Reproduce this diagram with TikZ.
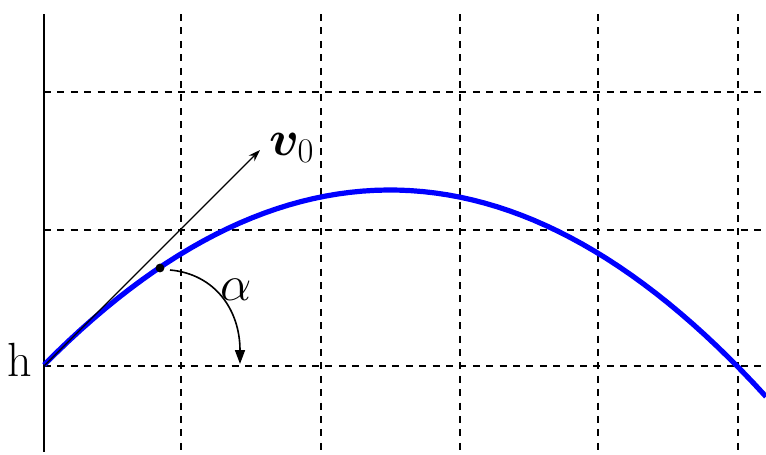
\documentclass[tikz,border=0pt]{standalone}
\usepackage{bm}
\usetikzlibrary{arrows.meta}
\begin{document}
\begin{tikzpicture}[x=.5pt,y=-.5pt,line width=.6pt,
  gridline/.style={line width=1.3pt,dash pattern=on 3.5pt off 3.2pt},
  lbl/.style={inner sep=0pt,font=\fontsize{24}{28}\selectfont}]
  \useasboundingbox (0,0) rectangle (766,455);
  \coordinate (o) at (44,366);
  \coordinate (p) at (160,268);
  \coordinate (v) at (260,150);
  \coordinate (a0) at (170,270);
  \coordinate (a1) at (240,364);
  % grid
  \draw[gridline] (181,14)--(181,452);
  \draw[gridline] (321,14)--(321,452);
  \draw[gridline] (460,14)--(460,452);
  \draw[gridline] (598,14)--(598,452);
  \draw[gridline] (738,14)--(738,452);
  \draw[gridline] (44,92)--(766,92);
  \draw[gridline] (44,230)--(766,230);
  \draw[gridline] (o)--(766,366);
  \draw[line width=1.1pt] (44,14)--(44,452);
  % trajectory
  \draw[blue,line width=2.6pt,domain=44:766,samples=60]
    plot ({\x},{190+176*((\x-390)/347)^2});
  \draw[-{Stealth[length=6pt,width=4pt]}] (o)--(v);
  \fill (p) circle (2.2pt);
  \draw[line width=.8pt,-{Triangle[length=7pt,width=5pt]}]
    (a0) .. controls (215,274) and (240,310) .. (a1);
  \node[lbl] (h) at (20,360) {h};
  \node[lbl] (vlab) at (292,148) {$\bm{v}_0$};
  \node[lbl,font=\fontsize{28}{32}\selectfont] (alpha) at (236,290) {$\alpha$};
\end{tikzpicture}
\end{document}
